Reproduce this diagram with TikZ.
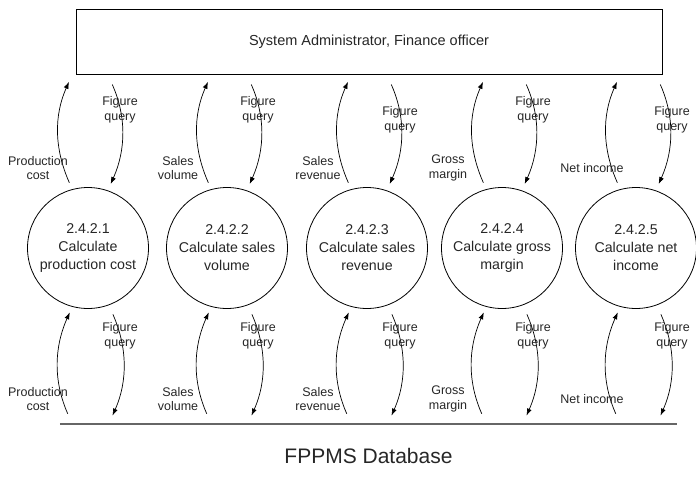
\documentclass[tikz,border=0pt]{standalone}
\usepackage{fontspec}
\setmainfont{Liberation Sans}
\usetikzlibrary{arrows.meta}
\begin{document}
\begin{tikzpicture}
  [x=1pt,y=-1pt,every node/.style={text=black!85},
   proc/.style={circle,draw=black,line width=.8pt,minimum size=121pt,inner sep=0pt,
     align=center,font=\fontsize{14.2}{18}\selectfont},
   agent/.style={draw=black,line width=1pt,minimum width=586pt,minimum height=65pt,
     font=\fontsize{14.5}{17}\selectfont},
   store/.style={minimum width=617pt,minimum height=64pt,inner sep=0pt,
     font=\fontsize{21}{25}\selectfont},
   flow/.style={draw=black,line width=.7pt,-{Latex[length=7pt,width=5pt]},bend left=24},
   lbl/.style={align=center,inner sep=0pt,font=\fontsize{12.5}{14.8}\selectfont}]
\useasboundingbox (0,0) rectangle (696,491);
\node (sa)[agent] at (369,41.5) {System Administrator, Finance officer};
\node (db)[store] at (368.5,456) {FPPMS Database};
\draw[gray!80!black,line width=1.6pt] (db.north west) -- (db.north east);
\node (p1)[proc] at (88,248) {2.4.2.1\\Calculate\\production cost};
\node (p2)[proc] at (227,248) {2.4.2.2\\Calculate sales\\volume};
\node (p3)[proc] at (367,248) {2.4.2.3\\Calculate sales\\revenue};
\node (p4)[proc] at (502,248) {2.4.2.4\\Calculate gross\\margin};
\node (p5)[proc] at (636,248) {2.4.2.5\\Calculate net\\income};
\foreach \i/\qx/\qy/\dx/\dat in {1/120/110/38/{Production\\cost},2/258/110/178/{Sales\\volume},
    3/400/120/318/{Sales\\revenue},4/533/110/448/{Gross\\margin},5/672/120/592/{Net income}} {
  \draw[flow,shorten <=7pt,shorten >=8pt] (p\i.105) to (p\i.105 |- sa.south);
  \draw[flow,shorten <=11pt,shorten >=7pt] (p\i.71 |- sa.south) to (p\i.71);
  \draw[flow,shorten <=11pt,shorten >=6pt] (p\i.255 |- db.north) to (p\i.255);
  \draw[flow,shorten <=10pt,shorten >=9pt] (p\i.290) to (p\i.290 |- db.north);
  \node (qa\i)[lbl] at (\qx,\qy) {Figure\\query};
  \node (va\i)[lbl] at (\dx,168) {\dat};
  \node (qb\i)[lbl] at (\qx,336) {Figure\\query};
  \node (vb\i)[lbl] at (\dx,399) {\dat};
}
\end{tikzpicture}
\end{document}
